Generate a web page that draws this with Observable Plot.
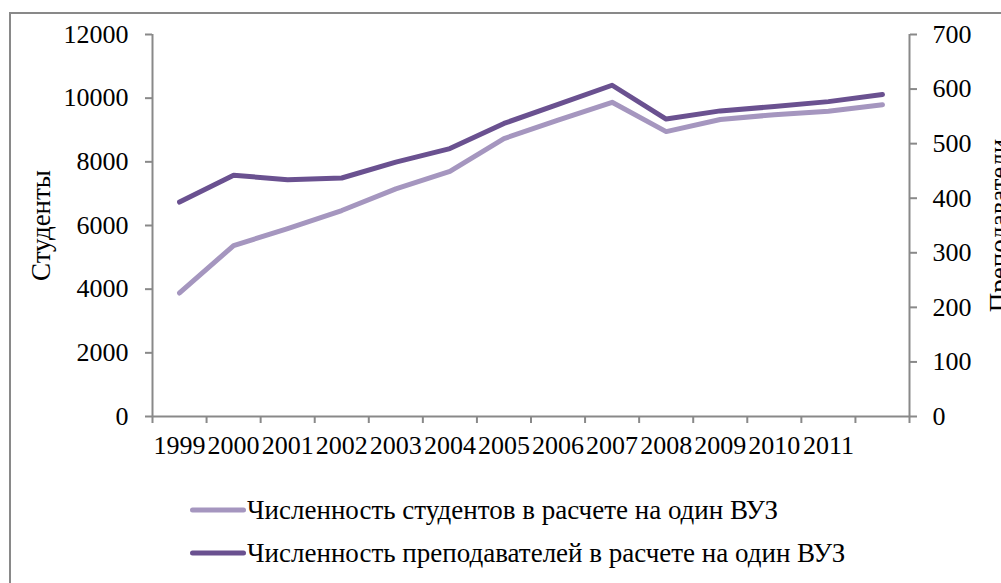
<!DOCTYPE html>
<html><head><meta charset="utf-8">
<script src="https://cdn.jsdelivr.net/npm/d3@7"></script>
<script src="https://cdn.jsdelivr.net/npm/@observablehq/plot@0.6"></script>
<style>
html,body{margin:0;padding:0;background:#fff;overflow:hidden;}
#wrap{position:relative;width:1001px;height:583px;overflow:hidden;font-family:"Liberation Serif","Times New Roman",serif;background:#fff;}
#border{position:absolute;left:9px;top:12px;width:1100px;height:700px;border:2px solid #898989;box-sizing:border-box;}
#chart{position:absolute;left:0;top:0;}
.leg{position:absolute;left:188px;height:40px;display:flex;align-items:center;font-size:27px;color:#000;white-space:nowrap;}
.leg svg{display:block;}
</style></head>
<body><div id="wrap"><div id="border"></div><div id="chart"></div><div id="legend"></div></div>
<script>
// Categories (14 bands, last band has no label in the source)
const years = ["1999","2000","2001","2002","2003","2004","2005","2006","2007","2008","2009","2010","2011","2012"];
const xLabels = ["1999","2000","2001","2002","2003","2004","2005","2006","2007","2008","2009","2010","2011"];
// Students per university (left axis)
const students = [3880, 5370, 5900, 6470, 7150, 7700, 8730, 9310, 9870, 8950, 9330, 9480, 9590, 9790];
// Teachers per university (right axis)
const teachers = [393, 442, 434, 437, 466, 491, 537, 572, 607, 545, 560, 568, 577, 590];
const seriesNames = ["Численность студентов в расчете на один ВУЗ", "Численность преподавателей в расчете на один ВУЗ"];
const leftTicks = [0, 2000, 4000, 6000, 8000, 10000, 12000];
const rightTicks = [0, 100, 200, 300, 400, 500, 600, 700];
const leftTitle = "Студенты";
const rightTitle = "Преподаватели";

const lightColor = "#a596bf";
const darkColor = "#6a5190";
const gray = "#898989";
const font = '"Liberation Serif","Times New Roman",serif';

const yMax = 12000, rMax = 700, k = yMax / rMax;
const data = years.map((yr, i) => ({i, year: yr, students: students[i], teachers: teachers[i]}));
const xDomain = [-0.5, years.length - 0.5];
const boundaries = d3.range(xDomain[0], xDomain[1] + 0.01, 1);

const plot = Plot.plot({
  width: 1001, height: 470,
  marginTop: 34, marginBottom: 54, marginLeft: 152, marginRight: 92,
  style: {fontFamily: font, fontSize: "26px", background: "transparent", color: "#000", overflow: "hidden"},
  x: {type: "linear", domain: xDomain, axis: null},
  y: {type: "linear", domain: [0, yMax], axis: null},
  marks: [
    Plot.ruleX([xDomain[0], xDomain[1]], {stroke: gray, strokeWidth: 2}),
    Plot.ruleY([0], {stroke: gray, strokeWidth: 2}),
    Plot.axisY({ticks: leftTicks, anchor: "left", tickSize: 7, tickPadding: 17, stroke: gray, strokeWidth: 2, fill: "#000", label: null, tickFormat: d => String(d), fontSize: 26}),
    Plot.axisY({ticks: rightTicks.map(v => v * k), anchor: "right", tickSize: 7, tickPadding: 16, stroke: gray, strokeWidth: 2, fill: "#000", label: null, tickFormat: d => String(Math.round(d / k)), fontSize: 26}),
    Plot.axisX({ticks: boundaries, anchor: "bottom", tickSize: 7, tickFormat: () => "", stroke: gray, strokeWidth: 2, label: null}),
    Plot.axisX({ticks: d3.range(xLabels.length), anchor: "bottom", tickSize: 0, tickPadding: 19, tickFormat: i => xLabels[i], fill: "#000", label: null, fontSize: 26}),
    Plot.line(data, {x: "i", y: "students", stroke: lightColor, strokeWidth: 5, strokeLinecap: "round", strokeLinejoin: "round"}),
    Plot.line(data, {x: "i", y: d => d.teachers * k, stroke: darkColor, strokeWidth: 5, strokeLinecap: "round", strokeLinejoin: "round"}),
    Plot.text([leftTitle], {frameAnchor: "left", textAnchor: "middle", dx: -111, rotate: -90, fontSize: 27, fill: "#000"}),
    Plot.text([rightTitle], {frameAnchor: "right", textAnchor: "middle", dx: 90, rotate: -90, fontSize: 27, fill: "#000"})
  ]
});
document.getElementById("chart").appendChild(plot);

// Legend
const legend = document.getElementById("legend");
const colors = [lightColor, darkColor];
const rowTops = [490, 533];
seriesNames.forEach((name, j) => {
  const row = document.createElement("div");
  row.className = "leg";
  row.style.top = rowTops[j] + "px";
  row.innerHTML = `<svg width="59" height="12"><line x1="4.5" x2="55.5" y1="6" y2="6" stroke="${colors[j]}" stroke-width="5" stroke-linecap="round"/></svg><span>${name}</span>`;
  legend.appendChild(row);
});
</script>
</body></html>
